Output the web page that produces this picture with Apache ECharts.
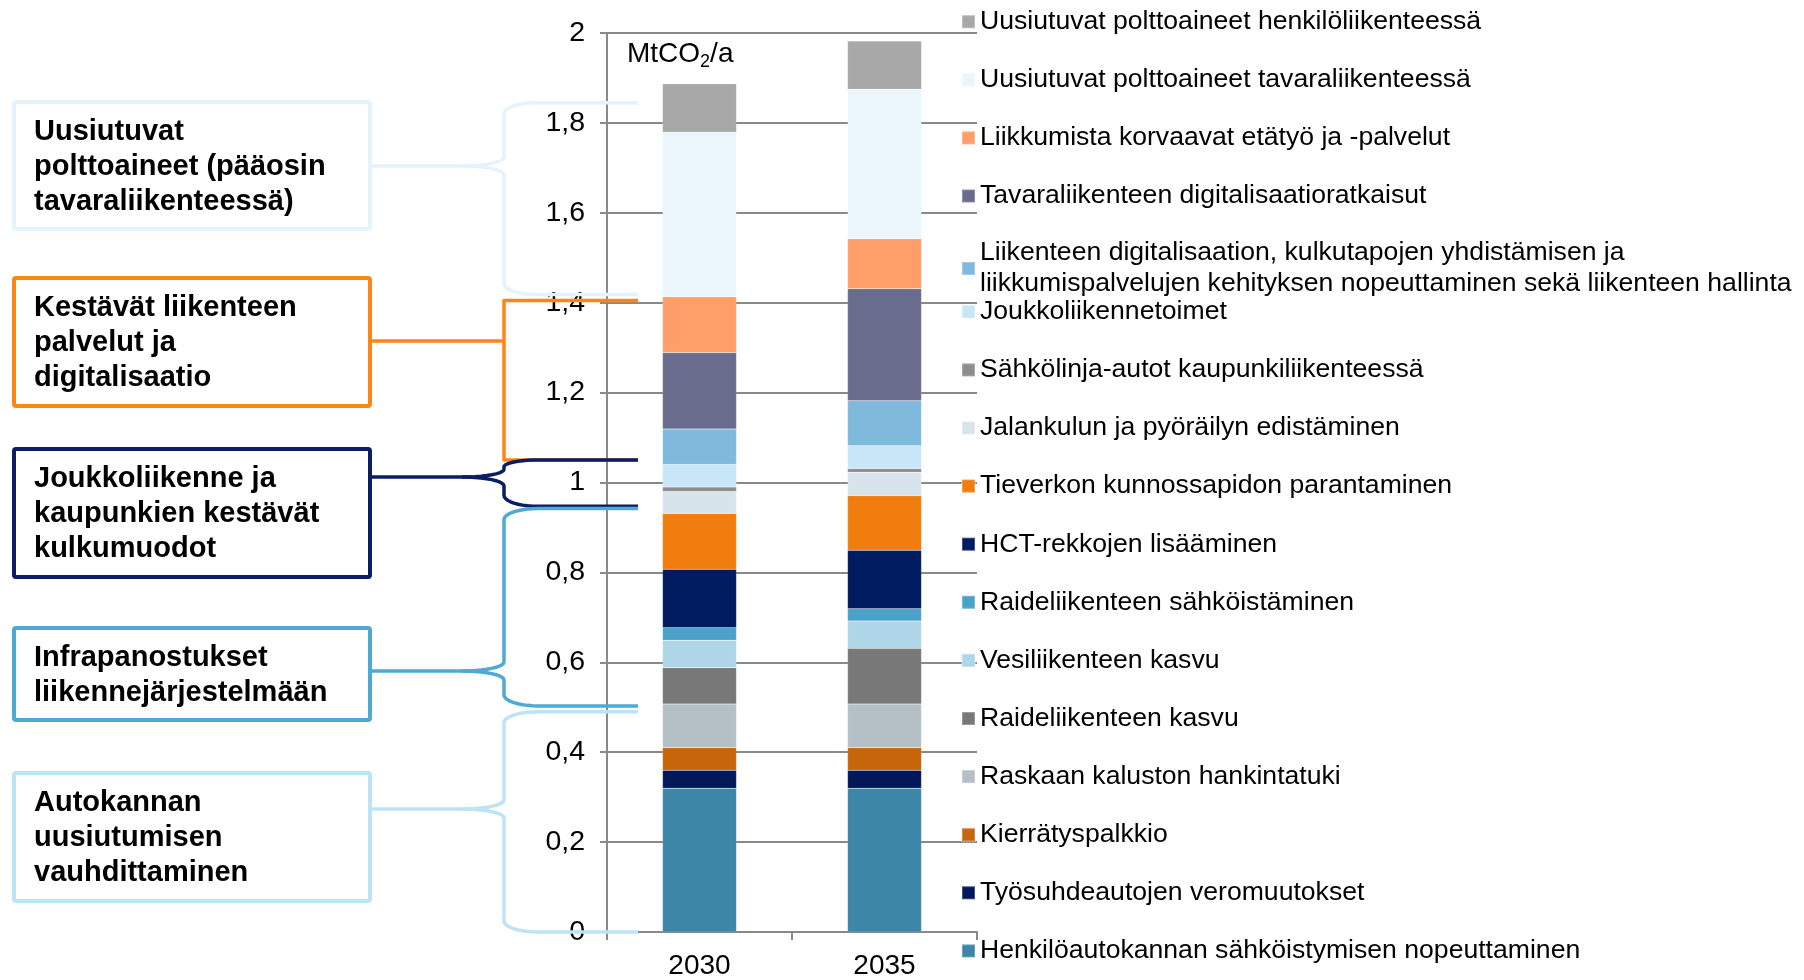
<!DOCTYPE html>
<html><head><meta charset="utf-8">
<script src="https://cdn.jsdelivr.net/npm/echarts@6/dist/echarts.min.js"></script>
<style>html,body{margin:0;padding:0;background:#fff}#c{width:1804px;height:980px}</style>
</head><body><div id="c"></div>
<script>
// ---- data ----
const categories = ['2030', '2035'];
// stacking order: bottom -> top
const seriesNames = [
  'Henkilöautokannan sähköistymisen nopeuttaminen',
  'Työsuhdeautojen veromuutokset',
  'Kierrätyspalkkio',
  'Raskaan kaluston hankintatuki',
  'Raideliikenteen kasvu',
  'Vesiliikenteen kasvu',
  'Raideliikenteen sähköistäminen',
  'HCT-rekkojen lisääminen',
  'Tieverkon kunnossapidon parantaminen',
  'Jalankulun ja pyöräilyn edistäminen',
  'Sähkölinja-autot kaupunkiliikenteessä',
  'Joukkoliikennetoimet',
  'Liikenteen digitalisaation, kulkutapojen yhdistämisen ja liikkumispalvelujen kehityksen nopeuttaminen sekä liikenteen hallinta',
  'Tavaraliikenteen digitalisaatioratkaisut',
  'Liikkumista korvaavat etätyö ja -palvelut',
  'Uusiutuvat polttoaineet tavaraliikenteessä',
  'Uusiutuvat polttoaineet henkilöliikenteessä'
];
const values2030 = [0.320, 0.040, 0.050, 0.097, 0.081, 0.061, 0.028, 0.130, 0.124, 0.049, 0.010, 0.050, 0.079, 0.170, 0.124, 0.366, 0.108];
const values2035 = [0.320, 0.040, 0.050, 0.097, 0.124, 0.061, 0.027, 0.130, 0.122, 0.052, 0.008, 0.051, 0.100, 0.249, 0.111, 0.333, 0.107];
const seriesColors = ['#3D86A7', '#02185A', '#C6650A', '#B5BFC6', '#787878', '#AFD5E8', '#4BA2C8', '#001B60', '#F07D0E', '#D8E4EC', '#8D8D8D', '#C7E7F9', '#7FBADC', '#6A6C8D', '#FF9E68', '#EBF6FC', '#A8A8A8'];

// annotation groups (ranges in axis units)
const groupLabels = [
  'Uusiutuvat\npolttoaineet (pääosin\ntavaraliikenteessä)',
  'Kestävät liikenteen\npalvelut ja\ndigitalisaatio',
  'Joukkoliikenne ja\nkaupunkien kestävät\nkulkumuodot',
  'Infrapanostukset\nliikennejärjestelmään',
  'Autokannan\nuusiutumisen\nvauhdittaminen'
];
const groupTop = [1.845, 1.405, 1.050, 0.942, 0.490];
const groupBottom = [1.418, 1.050, 0.947, 0.503, 0.000];

// ---- styles / layout ----
const FONT = '"Liberation Sans", Arial, Helvetica, sans-serif';
const groupColors = ['#E4F3FC', '#FF8517', '#0B1D63', '#4FAAD3', '#BDE3F6'];
const boxTop = [102, 278, 449, 628, 773];
const boxBottom = [229, 406, 577, 720, 901];
const braceTip = [166, 341, 477, 671, 809];
const braceKind = ['curly', 'square', 'curly', 'curly', 'curly'];
const BOX_L = 14, BOX_R = 370, BR_X = 504, BR_END = 638;

const chart = echarts.init(document.getElementById('c'), null, {renderer: 'canvas'});

const legendNames = seriesNames.slice().reverse();
const gridColor = '#898989';

const legendBase = {
  orient: 'vertical', left: 961, padding: 0,
  itemWidth: 13, itemHeight: 13, icon: 'rect', selectedMode: false,
  textStyle: {fontSize: 26.6, lineHeight: 31, color: '#000', fontFamily: FONT}
};

const option = {
  animation: false,
  backgroundColor: '#fff',
  grid: {left: 607, right: 827, top: 33, bottom: 47},
  legend: [
    Object.assign({}, legendBase, {top: 6.2, itemGap: 27.1, data: legendNames.slice(0, 4)}),
    Object.assign({}, legendBase, {top: 237.5, itemGap: 27.1, data: [legendNames[4]],
      formatter: function (n) { return n.replace(' ja ', ' ja\n'); }}),
    Object.assign({}, legendBase, {top: 296.3, itemGap: 27.1, data: legendNames.slice(5)})
  ],
  xAxis: {
    type: 'category', data: categories,
    axisLine: {lineStyle: {color: gridColor, width: 2}},
    axisTick: {show: true, length: 8, lineStyle: {color: gridColor, width: 2}},
    axisLabel: {fontSize: 28, color: '#000', margin: 20, fontFamily: FONT}
  },
  yAxis: {
    type: 'value', min: 0, max: 2, interval: 0.2,
    axisLine: {show: true, lineStyle: {color: gridColor, width: 2}},
    axisTick: {show: true, length: 7, lineStyle: {color: gridColor, width: 2}},
    splitLine: {lineStyle: {color: gridColor, width: 2}},
    axisLabel: {fontSize: 28.5, color: '#000', margin: 22, fontFamily: FONT,
      formatter: function (v) { return String(Math.round(v * 10) / 10).replace('.', ','); }}
  },
  series: seriesNames.map(function (name, i) {
    return {
      name: name, type: 'bar', stack: 'total', barWidth: '40%',
      itemStyle: {color: seriesColors[i], borderColor: 'rgba(255,255,255,0.25)', borderWidth: 0.5},
      data: [values2030[i], values2035[i]]
    };
  })
};
chart.setOption(option);

// ---- annotations (boxes + braces) ----
function arc(cx, cy, rx, ry, a0, a1) {
  const pts = [], n = 10;
  for (let k = 0; k <= n; k++) {
    const a = a0 + (a1 - a0) * k / n;
    pts.push([cx + rx * Math.cos(a), cy + ry * Math.sin(a)]);
  }
  return pts;
}
function curlyBrace(yT, yTip, yB) {
  const spanT = yTip - yT, spanB = yB - yTip;
  const ryC1 = Math.min(11, spanT * 0.4), ryT1 = Math.min(9, spanT * 0.45);
  const ryC2 = Math.min(11, spanB * 0.4), ryT2 = Math.min(9, spanB * 0.45);
  const rxC = 34, rxT = 42;
  let top = [[BR_END, yT]];
  top = top.concat(arc(BR_X + rxC, yT + ryC1, rxC, ryC1, -Math.PI / 2, -Math.PI));
  top = top.concat(arc(BR_X - rxT, yTip - ryT1, rxT, ryT1, 0, Math.PI / 2));
  top.push([BOX_R, yTip]);
  let bot = arc(BR_X - rxT, yTip + ryT2, rxT, ryT2, -Math.PI / 2, 0);
  bot = bot.concat(arc(BR_X + rxC, yB - ryC2, rxC, ryC2, Math.PI, Math.PI / 2));
  bot.push([BR_END, yB]);
  return [top, bot];
}

function buildGraphics() {
  const els = [];
  for (let i = 0; i < groupLabels.length; i++) {
    const yT = chart.convertToPixel({yAxisIndex: 0}, groupTop[i]);
    const yB = chart.convertToPixel({yAxisIndex: 0}, groupBottom[i]);
    const col = groupColors[i];
    const ls = {stroke: col, lineWidth: 3.5, fill: null, lineJoin: 'round', lineCap: 'butt'};
    if (braceKind[i] === 'square') {
      els.push({type: 'polyline', z: 50, shape: {points: [[BR_END, yT], [BR_X, yT], [BR_X, yB], [BR_END, yB]]}, style: ls});
      els.push({type: 'polyline', z: 50, shape: {points: [[BOX_R, braceTip[i]], [BR_X, braceTip[i]]]}, style: ls});
    } else {
      const parts = curlyBrace(yT, braceTip[i], yB);
      parts.forEach(function (p) {
        els.push({type: 'polyline', z: 50, shape: {points: p}, style: ls});
      });
    }
    els.push({type: 'rect', z: 51,
      shape: {x: BOX_L, y: boxTop[i], width: BOX_R - BOX_L, height: boxBottom[i] - boxTop[i], r: 2},
      style: {fill: '#fff', stroke: col, lineWidth: 4}});
    els.push({type: 'text', z: 52,
      style: {text: groupLabels[i], x: 34, y: (boxTop[i] + boxBottom[i]) / 2 + 1,
        verticalAlign: 'middle', align: 'left', fill: '#000',
        font: 'bold 29px ' + FONT, lineHeight: 35}});
  }
  // unit label
  els.push({type: 'text', z: 52,
    style: {x: 627, y: 54, verticalAlign: 'middle', align: 'left',
      text: '{m|MtCO}{s|2}{m|/a}',
      rich: {
        m: {fontSize: 28, fontFamily: FONT, fill: '#000', lineHeight: 34, verticalAlign: 'middle'},
        s: {fontSize: 18, fontFamily: FONT, fill: '#000', lineHeight: 34, verticalAlign: 'bottom'}
      }}});
  chart.setOption({graphic: {elements: els}});
}
buildGraphics();
</script>
</body></html>
